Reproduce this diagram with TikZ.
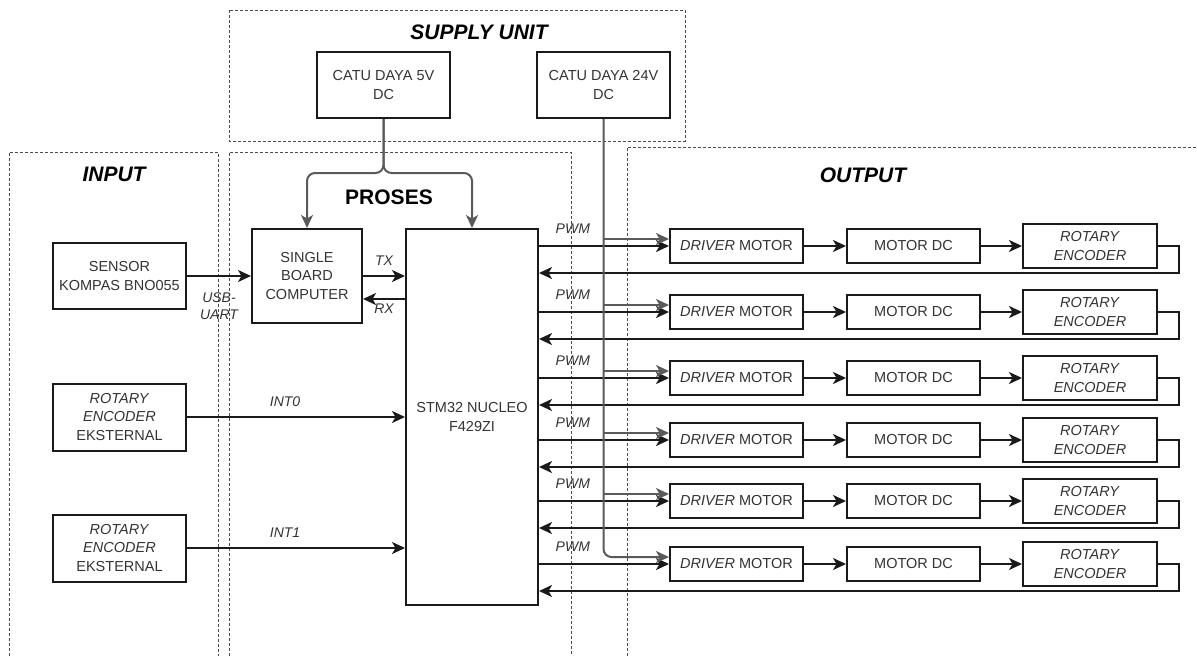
\documentclass[tikz,border=0pt]{standalone}
\usepackage{fontspec}
\setmainfont{Liberation Sans}
\usetikzlibrary{arrows.meta,positioning}

\definecolor{txtgray}{HTML}{333333}
\definecolor{linegray}{HTML}{1A1A1A}
\definecolor{pwrgray}{HTML}{5A5A5A}

\tikzset{
  blok/.style={draw=linegray, line width=2pt, fill=white, align=center,
    text=txtgray, font=\fontsize{14.5}{18.5}\selectfont, inner sep=2pt},
  sig/.style={draw=linegray, line width=2pt, -{Stealth[length=13pt,width=12pt,inset=3.5pt]}},
  pwr/.style={draw=pwrgray, line width=2pt, -{Stealth[length=13pt,width=12pt,inset=3.5pt]}},
  area/.style={draw=black!70, line width=0.9pt, dash pattern=on 3pt off 2pt},
  judul/.style={font=\fontsize{21}{24}\selectfont\bfseries\itshape},
  lbl/.style={text=txtgray, font=\fontsize{14}{17}\selectfont\itshape, align=center},
}

\begin{document}
\begin{tikzpicture}[x=1pt, y=-1pt]
  \useasboundingbox (0,0) rectangle (1197,656);

  % area blok diagram
  \draw[area] (229,10) rectangle (685,141);
  \draw[area] (9,656) |- (218,152) -- (218,656);
  \draw[area] (229,656) |- (571,152) -- (571,656);
  \draw[area] (627,656) |- (1197,147);

  \node[judul] at (479,32) {SUPPLY UNIT};
  \node[judul] at (114,174) {INPUT};
  \node[font=\fontsize{21}{24}\selectfont\bfseries] at (389,197) {PROSES};
  \node[judul] at (863,175) {OUTPUT};

  % supply unit
  \node[blok, minimum width=133pt, minimum height=66pt] (cd5) at (383.5,85) {CATU DAYA 5V\\DC};
  \node[blok, minimum width=133pt, minimum height=66pt] (cd24) at (603.5,85) {CATU DAYA 24V\\DC};

  % input
  \node[blok, minimum width=133pt, minimum height=66pt] (sens) at (119.5,276) {SENSOR\\KOMPAS BNO055};
  \node[blok, minimum width=133pt, minimum height=67pt] (enc1) at (119.5,417) {\textit{ROTARY}\\\textit{ENCODER}\\EKSTERNAL};
  \node[blok, minimum width=133pt, minimum height=67pt] (enc2) at (119.5,548) {\textit{ROTARY}\\\textit{ENCODER}\\EKSTERNAL};

  % proses
  \node[blok, minimum width=110pt, minimum height=94pt] (sbc) at (307,276) {SINGLE\\BOARD\\COMPUTER};
  \node[blok, minimum width=132pt, minimum height=376pt] (stm) at (472,417) {STM32 NUCLEO\\F429ZI};

  \draw[pwr, rounded corners=8pt] (cd5.south) -- ++(0,54) -| (sbc.north);
  \draw[pwr, rounded corners=8pt] (cd5.south) -- ++(0,54) -| (stm.north);

  \draw[sig] (sens.east) -- node[lbl, below=12pt] {USB-\\UART} (sbc.west);
  \draw[sig] (sbc.east) -- node[lbl, above=6pt] {TX} (sbc.east -| stm.west);
  \coordinate (rx) at ([yshift=-23pt]sbc.east);
  \draw[sig] (rx -| stm.west) -- node[lbl, below=1pt] {RX} (rx);
  \draw[sig] (enc1.east) -- node[lbl, pos=0.45, above=6pt] {INT0} (enc1.east -| stm.west);
  \draw[sig] (enc2.east) -- node[lbl, pos=0.45, above=6pt] {INT1} (enc2.east -| stm.west);

  % output
  \foreach \i/\y in {1/246,2/312,3/378,4/440,5/501,6/564} {
    \node[blok, minimum width=133pt, minimum height=34pt] (drv\i) at (736.5,\y) {\textit{DRIVER} MOTOR};
    \node[blok, minimum width=133pt, minimum height=34pt] (mot\i) at (913.5,\y) {MOTOR DC};
    \node[blok, minimum width=134pt, minimum height=44pt] (rot\i) at (1090,\y) {\textit{ROTARY}\\\textit{ENCODER}};
    \draw[sig] (drv\i) -- (mot\i);
    \draw[sig] (mot\i) -- (rot\i);
    \draw[sig] (stm.east |- drv\i.west) -- node[lbl, pos=0.26, above=8pt] {PWM} (drv\i.west);
    \path (rot\i.east) ++(21,27) coordinate (fb\i);
    \draw[sig] (rot\i.east) -| (fb\i) -- (fb\i -| stm.east);
    \coordinate (pin\i) at ([yshift=7pt]drv\i.west);
  }
  \foreach \i in {1,...,5}
    \draw[pwr] (cd24.south |- pin\i) -- (pin\i);
  \draw[pwr, rounded corners=8pt] (cd24.south) |- (pin6);
\end{tikzpicture}
\end{document}
